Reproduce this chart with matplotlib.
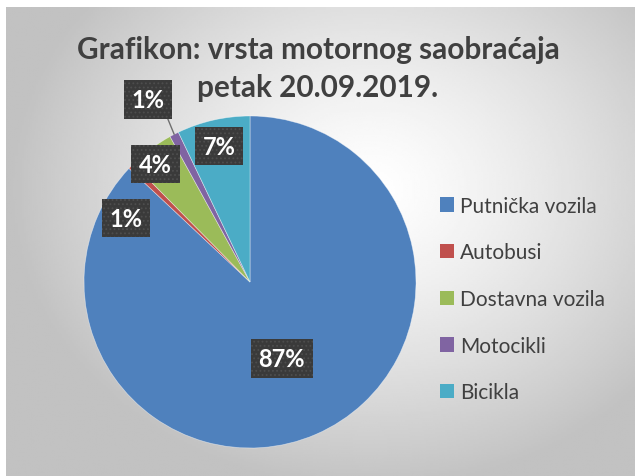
import numpy as np
import matplotlib
matplotlib.use('Agg')
import matplotlib.pyplot as plt
from matplotlib.patches import Patch

plt.rcParams['font.family'] = ['Lato', 'DejaVu Sans']
plt.rcParams['hatch.linewidth'] = 0.8

# data
categories = ['Putnička vozila', 'Autobusi', 'Dostavna vozila', 'Motocikli', 'Bicikla']
shares = [87.0, 0.6, 4.4, 0.9, 7.1]
colors = ['#4F81BD', '#C0504D', '#9BBB59', '#8064A2', '#4BACC6']
title_lines = ['Grafikon: vrsta motornog saobraćaja', 'petak 20.09.2019.']

# label layout: radius (pie = 1) and angle shift in degrees from wedge middle
label_r = [0.50, 0.84, 0.91, 1.26, 0.84]
label_dang = [-1, 17, 2, 2, 0]

W, H = 635, 477
fig = plt.figure(figsize=(W / 100, H / 100), dpi=100)

# gradient background of the chart area
bg = fig.add_axes([0, 0, 1, 1], zorder=-10)
bg.set_xlim(0, W)
bg.set_ylim(H, 0)
bg.axis('off')
x0, x1, y0, y1 = 6, W, 8, H
xx, yy = np.meshgrid(np.linspace(x0, x1, 300), np.linspace(y0, y1, 240))
d = np.sqrt(((xx - 370) / 360) ** 2 + ((yy - 190) / 300) ** 2)
val = 1.0 - 0.24 * np.clip(d, 0, 1) ** 1.3
bg.imshow(val, cmap='gray', vmin=0, vmax=1, extent=(x0, x1, y1, y0),
          aspect='auto', interpolation='bilinear')

# pie axes: center (250, 283) px, radius 166 px
cx, cy, r = 250, 283, 166
ax = fig.add_axes([(cx - r) / W, (H - cy - r) / H, 2 * r / W, 2 * r / H])
wedges, _ = ax.pie(shares, colors=colors, startangle=90, counterclock=False,
                   wedgeprops=dict(linewidth=0.5, edgecolor='#ffffff80'))
ax.set_xlim(-1, 1)
ax.set_ylim(-1, 1)

for i, w in enumerate(wedges):
    mid = np.deg2rad((w.theta1 + w.theta2) / 2 + label_dang[i])
    lx, ly = label_r[i] * np.cos(mid), label_r[i] * np.sin(mid)
    txt = f'{round(shares[i])}%'
    box = dict(boxstyle='square,pad=0.33', fc='#3a3a3a', ec='#4e4e4e',
               lw=0, hatch='....')
    if label_r[i] > 1:
        emid = np.deg2rad((w.theta1 + w.theta2) / 2)
        ax.annotate(txt, xy=(np.cos(emid), np.sin(emid)), xytext=(lx, ly),
                    ha='center', va='center', fontsize=17, fontweight='bold',
                    color='white', bbox=box, annotation_clip=False,
                    arrowprops=dict(arrowstyle='-', color='#6f6f6f', lw=1,
                                    relpos=(1, 0), shrinkA=0, shrinkB=0))
    else:
        ax.text(lx, ly, txt, ha='center', va='center', fontsize=17,
                fontweight='bold', color='white', bbox=box)

for k, line in enumerate(title_lines):
    fig.text(318 / W, 1 - (50 + 38 * k) / H, line, ha='center', va='center',
             fontsize=21.4, fontweight='bold', color='#404040')

handles = [Patch(facecolor=c, edgecolor='none') for c in colors]
fig.legend(handles, categories, loc='upper left',
           bbox_to_anchor=(421 / W, 1 - 178 / H), frameon=False,
           fontsize=15, labelcolor='#404040', handlelength=0.67,
           handleheight=0.67, handletextpad=0.29, labelspacing=1.28)

plt.savefig('out.png', dpi=100)
